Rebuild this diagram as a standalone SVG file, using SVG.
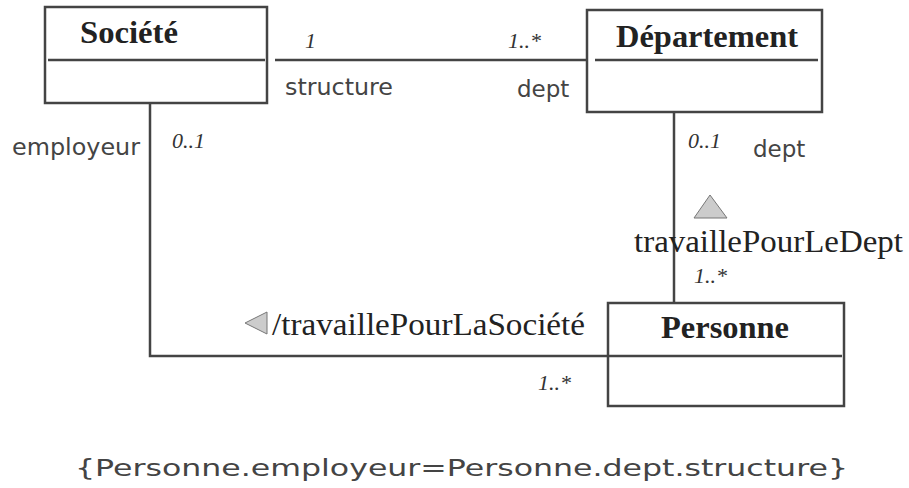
<svg xmlns="http://www.w3.org/2000/svg" width="909" height="488" viewBox="0 0 909 488">
<style>
.box{fill:#fff;stroke:#444;stroke-width:2.5}
.div{stroke:#444;stroke-width:2.5}
.ln{fill:none;stroke:#444;stroke-width:2.5}
.title{font-family:"Liberation Serif",serif;font-weight:bold;font-size:32px;fill:#222}
.mult{font-family:"Liberation Serif",serif;font-style:italic;font-size:22px;fill:#333}
.role{font-family:"DejaVu Sans",sans-serif;font-size:23px;fill:#444}
.assoc{font-family:"Liberation Serif",serif;font-size:32px;fill:#222}
.tri{fill:#ccc;stroke:#777;stroke-width:1}
</style>
<rect width="909" height="488" fill="#fff"/>
<g id="connectors">
<line class="ln" x1="275" y1="60" x2="588" y2="60"/>
<polyline class="ln" points="150,103 150,356 608,356"/>
<line class="ln" x1="674" y1="112" x2="674" y2="305"/>
</g>
<g id="societe">
<rect class="box" x="45" y="7" width="222" height="96"/>
<line class="div" x1="48" y1="60" x2="265" y2="60"/>
<text class="title" x="80" y="43" textLength="98" lengthAdjust="spacingAndGlyphs">Société</text>
</g>
<g id="departement">
<rect class="box" x="587" y="10" width="235" height="102"/>
<line class="div" x1="595" y1="60" x2="818" y2="60"/>
<text class="title" x="616" y="47" textLength="182" lengthAdjust="spacingAndGlyphs">Département</text>
</g>
<g id="personne">
<rect class="box" x="608" y="303" width="236" height="103"/>
<line class="div" x1="608" y1="356" x2="842" y2="356"/>
<text class="title" x="661" y="338" textLength="128" lengthAdjust="spacingAndGlyphs">Personne</text>
</g>
<g id="labels">
<text class="mult" x="305" y="48">1</text>
<text class="mult" x="508" y="48">1..*</text>
<text class="role" x="285" y="95" textLength="108" lengthAdjust="spacingAndGlyphs">structure</text>
<text class="role" x="517" y="97">dept</text>
<text class="role" x="12" y="155" textLength="128" lengthAdjust="spacingAndGlyphs">employeur</text>
<text class="mult" x="172" y="148" textLength="33" lengthAdjust="spacingAndGlyphs">0..1</text>
<text class="mult" x="688" y="148" textLength="33" lengthAdjust="spacingAndGlyphs">0..1</text>
<text class="role" x="753" y="157">dept</text>
<polygon class="tri" points="710,195 694,218 727,218"/>
<text class="assoc" x="634" y="252" textLength="269" lengthAdjust="spacingAndGlyphs">travaillePourLeDept</text>
<text class="mult" x="694" y="283">1..*</text>
<polygon class="tri" points="245,323 267,312 267,334"/>
<text class="assoc" x="272" y="335" textLength="313" lengthAdjust="spacingAndGlyphs">/travaillePourLaSociété</text>
<text class="mult" x="538" y="390">1..*</text>
<text class="role" x="75" y="476" font-size="30" textLength="773" lengthAdjust="spacingAndGlyphs">{Personne.employeur=Personne.dept.structure}</text>
</g>
</svg>
